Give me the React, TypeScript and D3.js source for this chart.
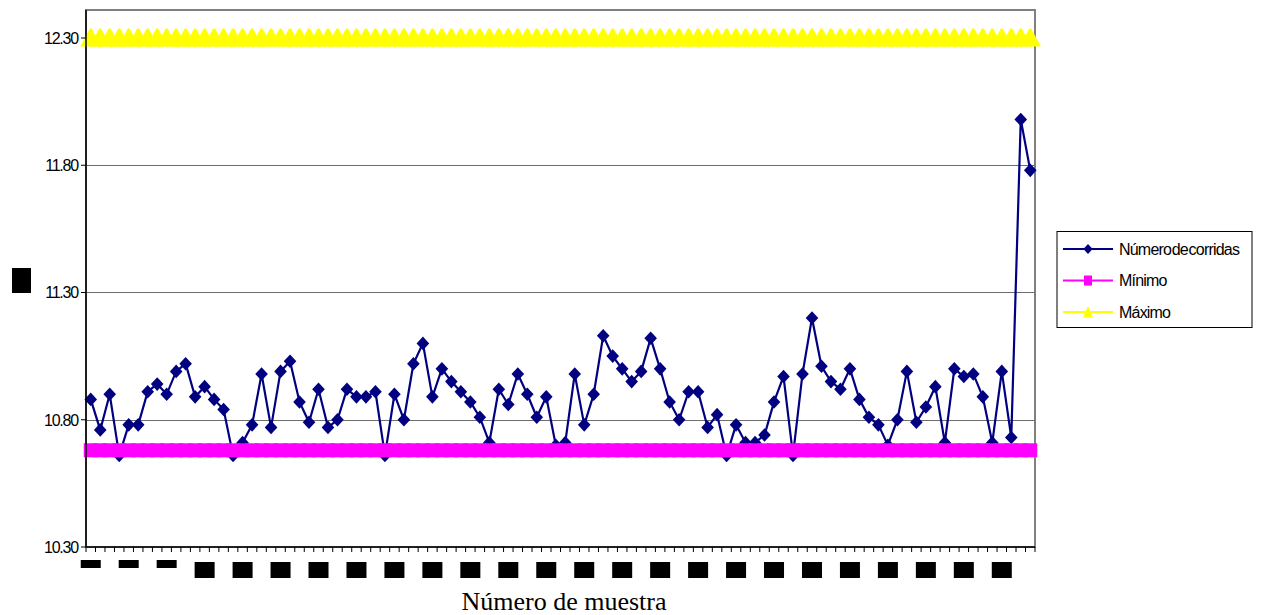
import React from "react";
import * as d3 from "d3";

// Sample numbers along the category axis
const muestras: number[] = d3.range(1, 101);

// Número de corridas, one value per sample
const corridas: number[] = [
  10.88, 10.76, 10.9, 10.66, 10.78, 10.78, 10.91, 10.94, 10.9, 10.99,
  11.02, 10.89, 10.93, 10.88, 10.84, 10.66, 10.71, 10.78, 10.98, 10.77,
  10.99, 11.03, 10.87, 10.79, 10.92, 10.77, 10.8, 10.92, 10.89, 10.89,
  10.91, 10.66, 10.9, 10.8, 11.02, 11.1, 10.89, 11.0, 10.95, 10.91,
  10.87, 10.81, 10.71, 10.92, 10.86, 10.98, 10.9, 10.81, 10.89, 10.7,
  10.71, 10.98, 10.78, 10.9, 11.13, 11.05, 11.0, 10.95, 10.99, 11.12,
  11.0, 10.87, 10.8, 10.91, 10.91, 10.77, 10.82, 10.66, 10.78, 10.71,
  10.71, 10.74, 10.87, 10.97, 10.66, 10.98, 11.2, 11.01, 10.95, 10.92,
  11.0, 10.88, 10.81, 10.78, 10.7, 10.8, 10.99, 10.79, 10.85, 10.93,
  10.71, 11.0, 10.97, 10.98, 10.89, 10.71, 10.99, 10.73, 11.98, 11.78,
];

// Control limits
const LIMITE_MINIMO = 10.68;
const LIMITE_MAXIMO = 12.3;
const minimo: number[] = muestras.map(() => LIMITE_MINIMO);
const maximo: number[] = muestras.map(() => LIMITE_MAXIMO);

// Axis ticks
const yTicks: number[] = [10.3, 10.8, 11.3, 11.8, 12.3];
const yGrid: number[] = [10.8, 11.3, 11.8, 12.3];
const xTickLabels: number[] = muestras.filter((_, i) => i % 4 === 0);

const serieNames = ["Número de corridas", "Mínimo", "Máximo"];
const NAVY = "#000080";
const MAGENTA = "#FF00FF";
const YELLOW = "#FFFF00";

const W = 1261;
const H = 615;
const PLOT = { left: 86, right: 1035, top: 10, bottom: 547 };

const FONT = "'Liberation Sans', Arial, sans-serif";

export default function App() {
  const x = d3
    .scaleBand<number>()
    .domain(muestras)
    .range([PLOT.left, PLOT.right])
    .padding(0);
  const cx = (m: number) => (x(m) as number) + x.bandwidth() / 2;
  const y = d3.scaleLinear().domain([10.3, 12.41]).range([PLOT.bottom, PLOT.top]);

  const line = d3
    .line<number>()
    .x((_, i) => cx(muestras[i]))
    .y((v) => y(v));

  const fmt = d3.format(".2f");
  const diamond = (r: number) => `M0,${-r * 1.08}L${r},0L0,${r * 1.08}L${-r},0Z`;
  const triangle = "M-1,-9.5L1,-9.5L10.5,8.5L-10.5,8.5Z";

  const xBoundaries = muestras.map((m) => x(m) as number).concat([PLOT.right]);

  return (
    <div style={{ position: "absolute", left: 0, top: 0 }}>
      <svg width={W} height={H} style={{ display: "block", background: "#fff" }}>
        {/* plot frame */}
        <rect
          x={PLOT.left}
          y={PLOT.top}
          width={PLOT.right - PLOT.left}
          height={PLOT.bottom - PLOT.top}
          fill="#fff"
          stroke="#808080"
          strokeWidth={2}
        />
        {/* horizontal gridlines */}
        {yGrid.map((t) => (
          <line
            key={`g${t}`}
            x1={PLOT.left}
            x2={PLOT.right}
            y1={Math.round(y(t)) + 0.5}
            y2={Math.round(y(t)) + 0.5}
            stroke="#6e6e6e"
            strokeWidth={1}
          />
        ))}

        {/* Número de corridas */}
        <path d={line(corridas) || ""} fill="none" stroke={NAVY} strokeWidth={2.2} />
        {corridas.map((v, i) => (
          <path key={`c${i}`} d={diamond(6.3)} transform={`translate(${cx(muestras[i])},${y(v)})`} fill={NAVY} />
        ))}

        {/* Mínimo */}
        <path d={line(minimo) || ""} fill="none" stroke={MAGENTA} strokeWidth={3} />
        {minimo.map((v, i) => (
          <rect key={`n${i}`} x={cx(muestras[i]) - 7} y={y(v) - 7} width={14} height={14} fill={MAGENTA} />
        ))}

        {/* Máximo */}
        <path d={line(maximo) || ""} fill="none" stroke={YELLOW} strokeWidth={3} />
        {maximo.map((v, i) => (
          <path key={`m${i}`} d={triangle} transform={`translate(${cx(muestras[i])},${y(v)})`} fill={YELLOW} />
        ))}

        {/* axes */}
        <line x1={PLOT.left} x2={PLOT.left} y1={PLOT.top} y2={PLOT.bottom} stroke="#000" strokeWidth={1.5} />
        <line x1={PLOT.left} x2={PLOT.right} y1={PLOT.bottom} y2={PLOT.bottom} stroke="#000" strokeWidth={1.5} />
        {yTicks.map((t) => (
          <g key={`y${t}`}>
            <line x1={PLOT.left - 5} x2={PLOT.left} y1={y(t)} y2={y(t)} stroke="#000" strokeWidth={1} />
            <text
              x={78}
              y={y(t)}
              dy="0.36em"
              textAnchor="end"
              fontFamily={FONT}
              fontSize={16}
              letterSpacing={-1.2}
              fill="#000"
            >
              {fmt(t)}
            </text>
          </g>
        ))}
        {xBoundaries.map((bx, i) => (
          <line
            key={`xt${i}`}
            x1={bx}
            x2={bx}
            y1={PLOT.bottom}
            y2={PLOT.bottom + 5}
            stroke="#000"
            strokeWidth={1}
          />
        ))}
        {xTickLabels.map((m) => {
          const s = String(m);
          const short = s.length === 1;
          const bx = cx(m) - 10;
          const by = short ? 560 : 562;
          const bh = short ? 8 : 16;
          return (
            <g key={`xl${m}`}>
              <rect x={bx} y={by} width={20} height={bh} fill="#000" />
              <text
                x={cx(m)}
                y={by + bh - 0.5}
                textAnchor="middle"
                fontFamily={FONT}
                fontSize={short ? 10 : 12}
                fill="#000"
              >
                {s}
              </text>
            </g>
          );
        })}

        {/* axis titles */}
        <rect x={12} y={268} width={19} height={25} fill="#000" />
        <text
          x={564}
          y={610}
          textAnchor="middle"
          fontFamily="'Liberation Serif', 'Times New Roman', serif"
          fontSize={26}
          fill="#000"
        >
          Número de muestra
        </text>

        {/* legend */}
        <g>
          <rect x={1057} y={231.5} width={195} height={96} fill="#fff" stroke="#000" strokeWidth={1} />
          {serieNames.map((name, i) => {
            const ly = 249 + i * 31.5;
            const color = [NAVY, MAGENTA, YELLOW][i];
            return (
              <g key={name}>
                <line x1={1063} x2={1113} y1={ly} y2={ly} stroke={color} strokeWidth={2} />
                {i === 0 && <path d={diamond(4.6)} transform={`translate(1088,${ly})`} fill={color} />}
                {i === 1 && <rect x={1084} y={ly - 5} width={8} height={10} fill={color} />}
                {i === 2 && <path d="M0,-6L5,5.5L-5,5.5Z" transform={`translate(1088,${ly})`} fill={color} />}
                <text
                  x={1119}
                  y={ly}
                  dy="0.36em"
                  fontFamily={FONT}
                  fontSize={16}
                  letterSpacing={-0.8}
                  wordSpacing={-3}
                  fill="#000"
                >
                  {name}
                </text>
              </g>
            );
          })}
        </g>
      </svg>
    </div>
  );
}
